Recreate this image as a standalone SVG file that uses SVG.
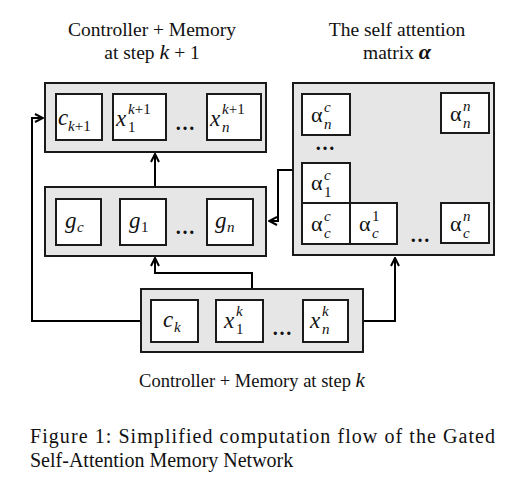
<svg xmlns="http://www.w3.org/2000/svg" width="516" height="493" viewBox="0 0 516 493" font-family="Liberation Serif, Times New Roman, serif">
<style>
.panel{fill:#e6e6e6;stroke:#1a1a1a;stroke-width:2}
.cell{fill:#fff;stroke:#1a1a1a;stroke-width:2}
.conn{fill:none;stroke:#000;stroke-width:2}
.title{font-size:19.5px;fill:#111}
.sub{font-size:18.5px;fill:#111}
.cap{font-size:20px;fill:#111}
.m{font-style:italic;font-size:23px;fill:#111}
.s{font-style:italic;font-size:15px;fill:#111}
.u{font-style:normal;font-size:15px;fill:#111}
.a{font-size:22px;fill:#111}
.dots{font-size:20px;font-weight:bold;fill:#111}
</style>
<defs>
<marker id="arr" viewBox="0 0 10 10" refX="9" refY="5" markerWidth="5" markerHeight="5" orient="auto">
<path d="M1,1 L9,5 L1,9" fill="none" stroke="#000" stroke-width="2"/>
</marker>
</defs>
<rect width="516" height="493" fill="#fff"/>

<g id="connectors">
<path class="conn" d="M141,321 H32 V118 H43" marker-end="url(#arr)"/>
<path class="conn" d="M155,187 V154" marker-end="url(#arr)"/>
<path class="conn" d="M252,289 V273 H155 V258" marker-end="url(#arr)"/>
<path class="conn" d="M293,170 H278 V221 H269" marker-end="url(#arr)"/>
<path class="conn" d="M363,321 H395 V258" marker-end="url(#arr)"/>
</g>

<g id="title-top" font-family="Liberation Serif, serif">
<text class="title" x="152" y="36" text-anchor="middle">Controller + Memory</text>
<text class="title" x="152" y="59" text-anchor="middle">at step <tspan font-style="italic" font-size="22">k</tspan> + 1</text>
</g>
<g id="title-attn" font-family="Liberation Serif, serif">
<text class="title" x="397" y="36" text-anchor="middle">The self attention</text>
<text class="title" x="397" y="59" text-anchor="middle">matrix <tspan font-style="italic" font-weight="bold" font-size="22">α</tspan></text>
</g>

<g id="memory-k1" font-family="Liberation Serif, serif">
<rect class="panel" x="45" y="83" width="221" height="69"/>
<rect class="cell" x="56" y="94" width="46" height="46"/>
<text class="m" x="58" y="125">c</text><text class="s" x="68" y="131">k<tspan class="u">+1</tspan></text>
<rect class="cell" x="113" y="94" width="53" height="46"/>
<text class="m" x="116" y="126">x</text><text class="s" x="128" y="114">k<tspan class="u">+1</tspan></text><text class="u" x="128" y="132">1</text>
<text class="dots" x="185" y="130" text-anchor="middle">…</text>
<rect class="cell" x="207" y="94" width="54" height="46"/>
<text class="m" x="210" y="126">x</text><text class="s" x="222" y="114">k<tspan class="u">+1</tspan></text><text class="s" x="222" y="132">n</text>
</g>

<g id="gates" font-family="Liberation Serif, serif">
<rect class="panel" x="45" y="187" width="221" height="69"/>
<rect class="cell" x="56" y="199" width="45" height="46"/>
<text class="m" x="65" y="228">g</text><text class="s" x="77" y="232">c</text>
<rect class="cell" x="120" y="199" width="46" height="46"/>
<text class="m" x="129" y="228">g</text><text class="u" x="141" y="232">1</text>
<text class="dots" x="185" y="234" text-anchor="middle">…</text>
<rect class="cell" x="207" y="199" width="46" height="46"/>
<text class="m" x="215" y="228">g</text><text class="s" x="227" y="232">n</text>
</g>

<g id="memory-k" font-family="Liberation Serif, serif">
<rect class="panel" x="141" y="289" width="222" height="63"/>
<rect class="cell" x="151" y="300" width="47" height="42"/>
<text class="m" x="163" y="327">c</text><text class="s" x="174" y="332">k</text>
<rect class="cell" x="216" y="300" width="47" height="42"/>
<text class="m" x="224" y="328">x</text><text class="s" x="236" y="316">k</text><text class="u" x="236" y="334">1</text>
<text class="dots" x="282" y="335" text-anchor="middle">…</text>
<rect class="cell" x="303" y="300" width="45" height="42"/>
<text class="m" x="310" y="328">x</text><text class="s" x="322" y="316">k</text><text class="s" x="322" y="334">n</text>
</g>

<g id="attention" font-family="Liberation Serif, serif">
<rect class="panel" x="293" y="83" width="201" height="172"/>
<rect class="cell" x="302" y="94" width="48" height="41"/>
<text class="a" x="311" y="122">α</text><text class="s" x="324" y="112">c</text><text class="s" x="324" y="129">n</text>
<rect class="cell" x="441" y="93" width="48" height="40"/>
<text class="a" x="450" y="121">α</text><text class="s" x="463" y="111">n</text><text class="s" x="463" y="128">n</text>
<text class="dots" x="325" y="150" text-anchor="middle">…</text>
<rect class="cell" x="302" y="163" width="48" height="40"/>
<text class="a" x="311" y="190">α</text><text class="s" x="324" y="180">c</text><text class="u" x="324" y="197">1</text>
<rect class="cell" x="302" y="203" width="48" height="41"/>
<text class="a" x="311" y="231">α</text><text class="s" x="324" y="221">c</text><text class="s" x="324" y="238">c</text>
<rect class="cell" x="350" y="203" width="47" height="41"/>
<text class="a" x="359" y="231">α</text><text class="u" x="372" y="221">1</text><text class="s" x="372" y="238">c</text>
<text class="dots" x="420" y="242" text-anchor="middle">…</text>
<rect class="cell" x="441" y="203" width="48" height="40"/>
<text class="a" x="450" y="231">α</text><text class="s" x="463" y="221">n</text><text class="s" x="463" y="238">c</text>
</g>

<g id="caption-k" font-family="Liberation Serif, serif">
<text class="sub" x="252" y="387" text-anchor="middle">Controller + Memory at step <tspan font-style="italic" font-size="21">k</tspan></text>
</g>

<g id="figure-caption" font-family="Liberation Serif, serif">
<text class="cap" x="30" y="443" textLength="465" lengthAdjust="spacing">Figure 1:  Simplified computation flow of the Gated</text>
<text class="cap" x="30" y="467">Self-Attention Memory Network</text>
</g>
</svg>
